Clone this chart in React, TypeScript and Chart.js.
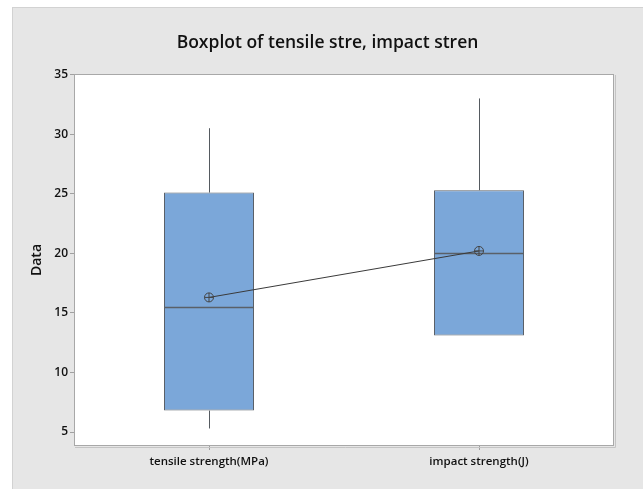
import React, { useEffect, useRef } from "react";
import { Chart, registerables } from "chart.js";

Chart.register(...registerables);

const categories = ["tensile strength(MPa)", "impact strength(J)"];
const whiskerLow = [5.3, 13.1];
const q1 = [6.8, 13.1];
const median = [15.5, 20.0];
const q3 = [25.1, 25.3];
const whiskerHigh = [30.5, 33.0];
const means = [16.3, 20.2];
const yTicks = [5, 10, 15, 20, 25, 30, 35];

const FONT = "'Open Sans', 'Noto Sans', sans-serif";

const boxPlugin = {
  id: "boxExtras",
  beforeDraw(chart: any) {
    const { ctx, chartArea } = chart;
    ctx.save();
    ctx.fillStyle = "#ffffff";
    ctx.fillRect(chartArea.left, chartArea.top, chartArea.right - chartArea.left, chartArea.bottom - chartArea.top);
    ctx.restore();
  },
  beforeDatasetsDraw(chart: any) {
    const { ctx, chartArea } = chart;
    ctx.save();
    ctx.strokeStyle = "#a8a8a8";
    ctx.lineWidth = 1;
    ctx.strokeRect(chartArea.left + 0.5, chartArea.top + 0.5, chartArea.right - chartArea.left - 1, chartArea.bottom - chartArea.top - 1);
    ctx.strokeStyle = "#c4c4c4";
    ctx.beginPath();
    ctx.moveTo(chartArea.right + 1.5, chartArea.top + 1);
    ctx.lineTo(chartArea.right + 1.5, chartArea.bottom + 1.5);
    ctx.lineTo(chartArea.left + 1, chartArea.bottom + 1.5);
    ctx.stroke();
    ctx.restore();
  },
  afterDatasetDraw(chart: any, args: any) {
    if (args.index !== 0) return;
    const { ctx } = chart;
    const x = chart.scales.x;
    const y = chart.scales.y;
    const meta = chart.getDatasetMeta(0);
    ctx.save();
    ctx.lineWidth = 1;
    categories.forEach((_, i) => {
      const bar = meta.data[i];
      const cx = Math.round(x.getPixelForValue(i)) + 0.5;
      const half = bar.width / 2;
      ctx.strokeStyle = "#555a60";
      ctx.beginPath();
      if (whiskerHigh[i] > q3[i]) {
        ctx.moveTo(cx, y.getPixelForValue(q3[i]));
        ctx.lineTo(cx, y.getPixelForValue(whiskerHigh[i]));
      }
      if (whiskerLow[i] < q1[i]) {
        ctx.moveTo(cx, y.getPixelForValue(q1[i]));
        ctx.lineTo(cx, y.getPixelForValue(whiskerLow[i]));
      }
      ctx.stroke();
      const my = Math.round(y.getPixelForValue(median[i])) + 0.5;
      ctx.strokeStyle = "#5a6068";
      ctx.lineWidth = 1.3;
      ctx.beginPath();
      ctx.moveTo(bar.x - half, my);
      ctx.lineTo(bar.x + half, my);
      ctx.stroke();
      ctx.lineWidth = 1;
    });
    ctx.restore();
  },
};

export default function App() {
  const ref = useRef<HTMLCanvasElement | null>(null);
  useEffect(() => {
    if (!ref.current) return;
    const chart = new Chart(ref.current, {
      type: "bar",
      data: {
        labels: categories,
        datasets: [
          {
            type: "bar",
            data: categories.map((_, i) => [q1[i], q3[i]]) as any,
            backgroundColor: "#7ba7d9",
            borderColor: "#5a6068",
            borderWidth: 1,
            borderSkipped: false,
            barPercentage: 1 / 3,
            categoryPercentage: 1,
            order: 3,
          },
          {
            type: "line",
            data: means,
            borderColor: "#3a3a3a",
            borderWidth: 1,
            pointStyle: "circle",
            pointRadius: 4.5,
            pointBackgroundColor: "rgba(0,0,0,0)",
            pointBorderColor: "#444",
            pointBorderWidth: 1,
            order: 1,
          } as any,
          {
            type: "line",
            data: means,
            showLine: false,
            pointStyle: "cross",
            pointRadius: 4.5,
            pointBorderColor: "#444",
            pointBorderWidth: 1,
            order: 0,
          } as any,
        ],
      },
      options: {
        animation: false,
        responsive: false,
        maintainAspectRatio: false,
        layout: { padding: { left: 0, right: 0, top: 0, bottom: 0 } },
        plugins: {
          legend: { display: false },
          tooltip: { enabled: false },
          title: {
            display: true,
            text: "Boxplot of tensile stre, impact stren",
            color: "#111",
            font: { family: FONT, size: 17.5, weight: "600" as any },
            padding: { top: 26, bottom: 20 },
          },
        },
        scales: {
          x: {
            offset: true,
            border: { display: false },
            grid: { offset: false, drawOnChartArea: false, drawTicks: true, tickLength: 4, color: "#a0a0a0" },
            ticks: { color: "#111", font: { family: FONT, size: 11.5, weight: "600" as any }, padding: 5, maxRotation: 0 },
            afterFit: (s: any) => { s.height = 43; },
          },
          y: {
            min: 3.83,
            max: 35.05,
            border: { display: false },
            grid: { drawOnChartArea: false, drawTicks: true, tickLength: 4, color: "#a0a0a0" },
            ticks: { color: "#111", font: { family: FONT, size: 12, weight: "600" as any }, padding: 2 },
            afterBuildTicks: (s: any) => { s.ticks = yTicks.map((v) => ({ value: v })); },
            title: {
              display: true,
              text: "Data",
              color: "#111",
              font: { family: FONT, size: 14, weight: "600" as any },
              padding: { top: 17, bottom: 0 },
            },
            afterFit: (s: any) => { s.width = 62; },
          },
          yRightSpace: {
            position: "right",
            min: 3.83,
            max: 35.05,
            display: true,
            border: { display: false },
            grid: { display: false, drawTicks: false },
            ticks: { display: false },
            afterFit: (s: any) => { s.width = 29; },
          } as any,
        },
      },
      plugins: [boxPlugin],
    });
    return () => chart.destroy();
  }, []);
  return (
    <div style={{ position: "relative", width: 643, height: 489, background: "#ffffff", overflow: "hidden" }}>
      <style>{`body{margin:0}`}</style>
      <div
        style={{
          position: "absolute",
          left: 12,
          top: 7,
          width: 631,
          height: 482,
          background: "#e6e6e6",
          borderLeft: "1px solid #d2d2d2",
          borderTop: "1px solid #d2d2d2",
          boxSizing: "border-box",
        }}
      />
      <canvas ref={ref} width={631} height={482} style={{ position: "absolute", left: 12, top: 7, width: 631, height: 482 }} />
    </div>
  );
}
